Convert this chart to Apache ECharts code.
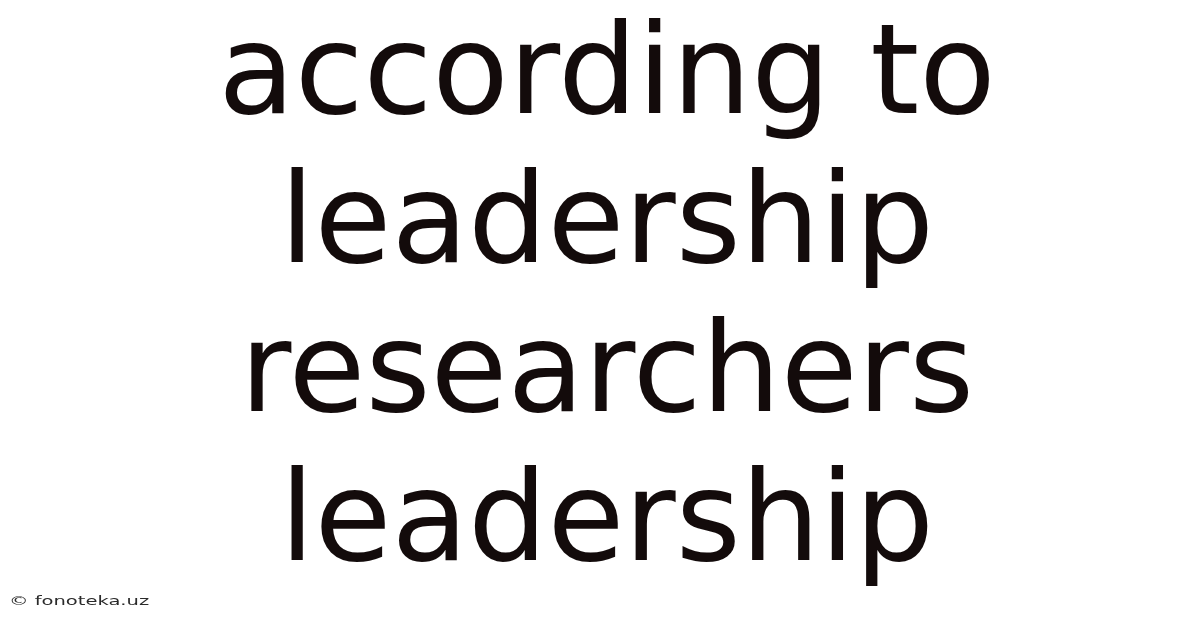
<!DOCTYPE html>
<html>
<head>
<meta charset="utf-8">
<style>
  html, body { margin: 0; padding: 0; background: #ffffff; }
  #chart { width: 1200px; height: 628px; }
</style>
<script src="https://cdn.jsdelivr.net/npm/echarts@6/dist/echarts.min.js"></script>
</head>
<body>
<div id="chart"></div>
<script>
var titleLines = ["according to", "leadership", "researchers", "leadership"];
var watermark = "\u00a9 fonoteka.uz";

var chart = echarts.init(document.getElementById('chart'), null, { renderer: 'canvas' });
var firstCenter = 81;
var lineStep = 148.7;
var graphics = titleLines.map(function (t, i) {
  return {
    type: 'text',
    x: 607,
    y: firstCenter + i * lineStep,
    style: {
      text: t,
      fill: '#130b0b',
      fontFamily: 'DejaVu Sans',
      fontSize: 125,
      textAlign: 'center',
      textVerticalAlign: 'middle'
    }
  };
});
graphics.push({
  type: 'text',
  x: 9,
  y: 602,
  scaleX: 1.5,
  style: {
    text: watermark,
    fill: '#2a2a2a',
    fontFamily: 'DejaVu Sans',
    fontSize: 13,
    textAlign: 'left',
    textVerticalAlign: 'middle'
  }
});
chart.setOption({
  backgroundColor: '#ffffff',
  animation: false,
  graphic: graphics
});
</script>
</body>
</html>
